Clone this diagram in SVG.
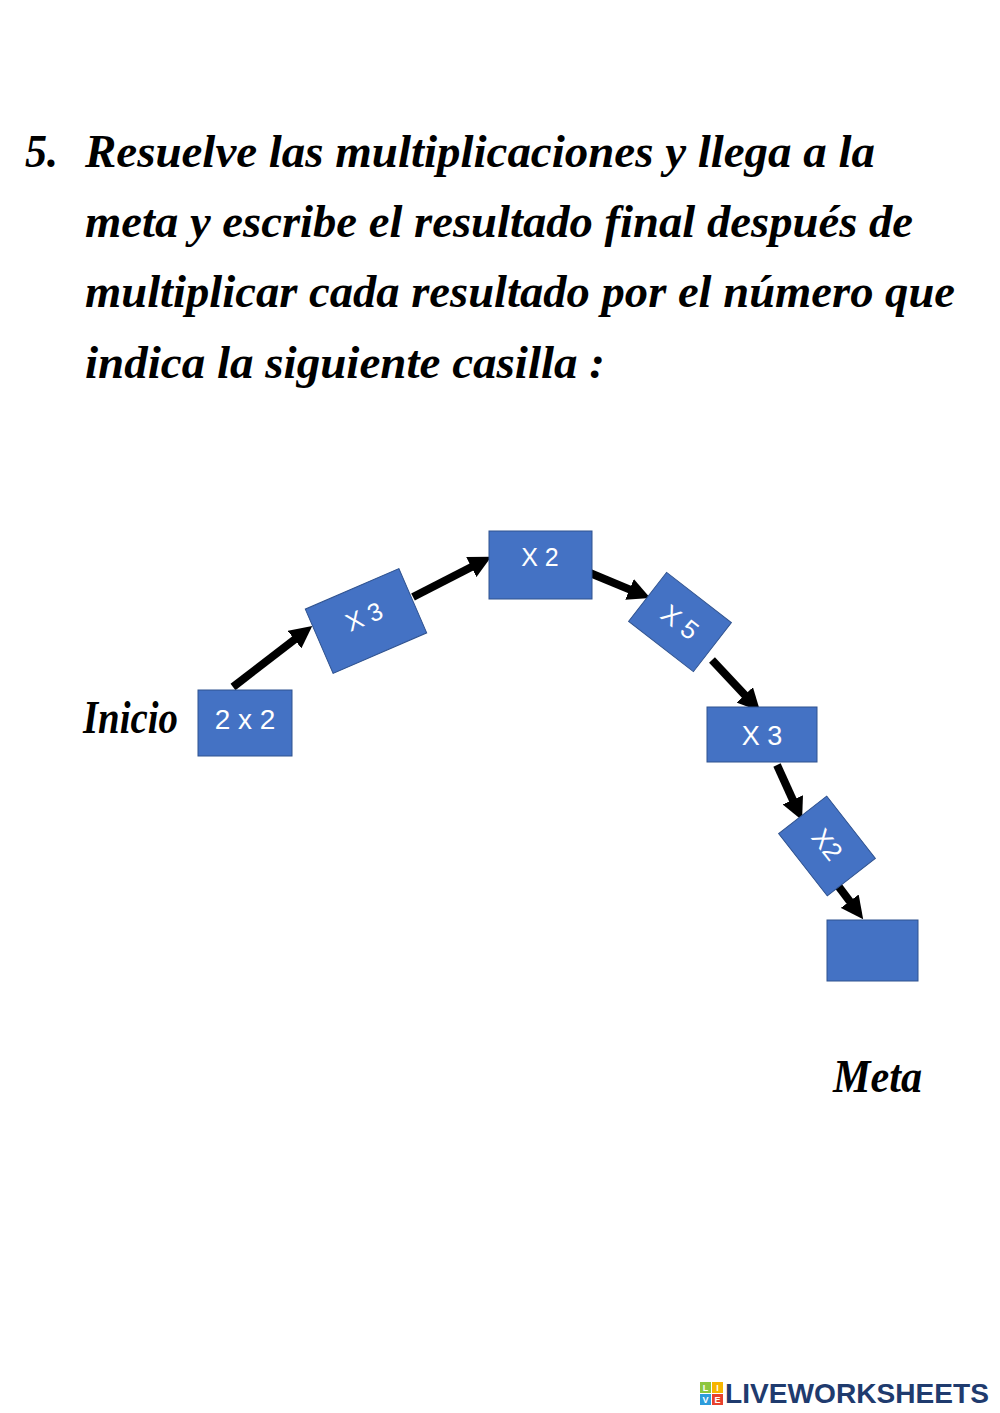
<svg xmlns="http://www.w3.org/2000/svg" width="1000" height="1413" viewBox="0 0 1000 1413">
<defs>
<style>
.title{font-family:"Liberation Serif","DejaVu Serif",serif;font-weight:bold;font-style:italic;font-size:47px;fill:#000}
.box{fill:#4472C4;stroke:#2F528F;stroke-width:1}
.lbl{font-family:"Liberation Sans","Open Sans",sans-serif;fill:#fff;text-anchor:middle}
.conn{stroke:#000;stroke-width:8;fill:none;marker-end:url(#ah)}
.logo{font-family:"Liberation Sans","DejaVu Sans",sans-serif;font-weight:bold}
</style>
<marker id="ah" viewBox="0 0 10 10" refX="4" refY="5" markerWidth="2.8" markerHeight="2.8" orient="auto">
<path d="M0,0 L10,5 L0,10 z" fill="#000"/>
</marker>
</defs>
<rect width="1000" height="1413" fill="#fff"/>
<g id="title">
<text class="title" x="25" y="167" textLength="33" lengthAdjust="spacingAndGlyphs" font-style="normal">5.</text>
<text class="title" x="85" y="167" textLength="790" lengthAdjust="spacingAndGlyphs">Resuelve las multiplicaciones y llega a la</text>
<text class="title" x="85" y="237" textLength="828" lengthAdjust="spacingAndGlyphs">meta y escribe el resultado final después de</text>
<text class="title" x="85" y="307" textLength="870" lengthAdjust="spacingAndGlyphs">multiplicar cada resultado por el número que</text>
<text class="title" x="85" y="378" textLength="520" lengthAdjust="spacingAndGlyphs">indica la siguiente casilla :</text>
</g>
<g id="connectors">
<line class="conn" x1="233" y1="687" x2="301.6" y2="634.1"/>
<line class="conn" x1="413" y1="597" x2="479.3" y2="563"/>
<line class="conn" x1="590" y1="573" x2="637.8" y2="592.9"/>
<line class="conn" x1="712" y1="660" x2="750.9" y2="701.4"/>
<line class="conn" x1="777" y1="765" x2="796.5" y2="808"/>
<line class="conn" x1="836" y1="883" x2="855.1" y2="908.4"/>
</g>
<g id="inicio">
<text class="title" x="83" y="733" font-size="42" textLength="95" lengthAdjust="spacingAndGlyphs">Inicio</text>
</g>
<g id="n1">
<rect class="box" x="198" y="690" width="94" height="66"/>
<text class="lbl" x="245" y="729" font-size="28">2 x 2</text>
</g>
<g id="n2" transform="translate(366,621) rotate(-23.4)">
<rect class="box" x="-51" y="-35" width="102" height="70"/>
<text class="lbl" x="0" y="4" font-size="25">X 3</text>
</g>
<g id="n3">
<rect class="box" x="489" y="531" width="103" height="68"/>
<text class="lbl" x="540" y="566" font-size="25">X 2</text>
</g>
<g id="n4" transform="translate(680,622) rotate(37.8)">
<rect class="box" x="-41" y="-31" width="82" height="62"/>
<text class="lbl" x="0" y="9" font-size="26">X 5</text>
</g>
<g id="n5">
<rect class="box" x="707" y="707" width="110" height="55"/>
<text class="lbl" x="762" y="745" font-size="27">X 3</text>
</g>
<g id="n6" transform="translate(827,846) rotate(52)">
<rect class="box" x="-39.5" y="-30.5" width="79" height="61"/>
<text class="lbl" x="-1" y="8" font-size="26">X2</text>
</g>
<g id="n7">
<rect class="box" x="827" y="920" width="91" height="61"/>
</g>
<g id="meta">
<text class="title" x="833" y="1092" font-size="42" textLength="89" lengthAdjust="spacingAndGlyphs">Meta</text>
</g>
<g id="logo">
<rect x="700" y="1382" width="11" height="11" fill="#8dc63f"/>
<rect x="712" y="1382" width="11" height="11" fill="#f7b500"/>
<rect x="700" y="1394" width="11" height="11" fill="#2d9cdb"/>
<rect x="712" y="1394" width="11" height="11" fill="#e8412c"/>
<text class="logo" x="705.5" y="1391" font-size="9" fill="#fff" text-anchor="middle">L</text>
<text class="logo" x="717.5" y="1391" font-size="9" fill="#fff" text-anchor="middle">I</text>
<text class="logo" x="705.5" y="1403" font-size="9" fill="#fff" text-anchor="middle">V</text>
<text class="logo" x="717.5" y="1403" font-size="9" fill="#fff" text-anchor="middle">E</text>
<text class="logo" x="725" y="1403" font-size="28" fill="#1f3b6e" textLength="264" lengthAdjust="spacingAndGlyphs">LIVEWORKSHEETS</text>
</g>
</svg>
